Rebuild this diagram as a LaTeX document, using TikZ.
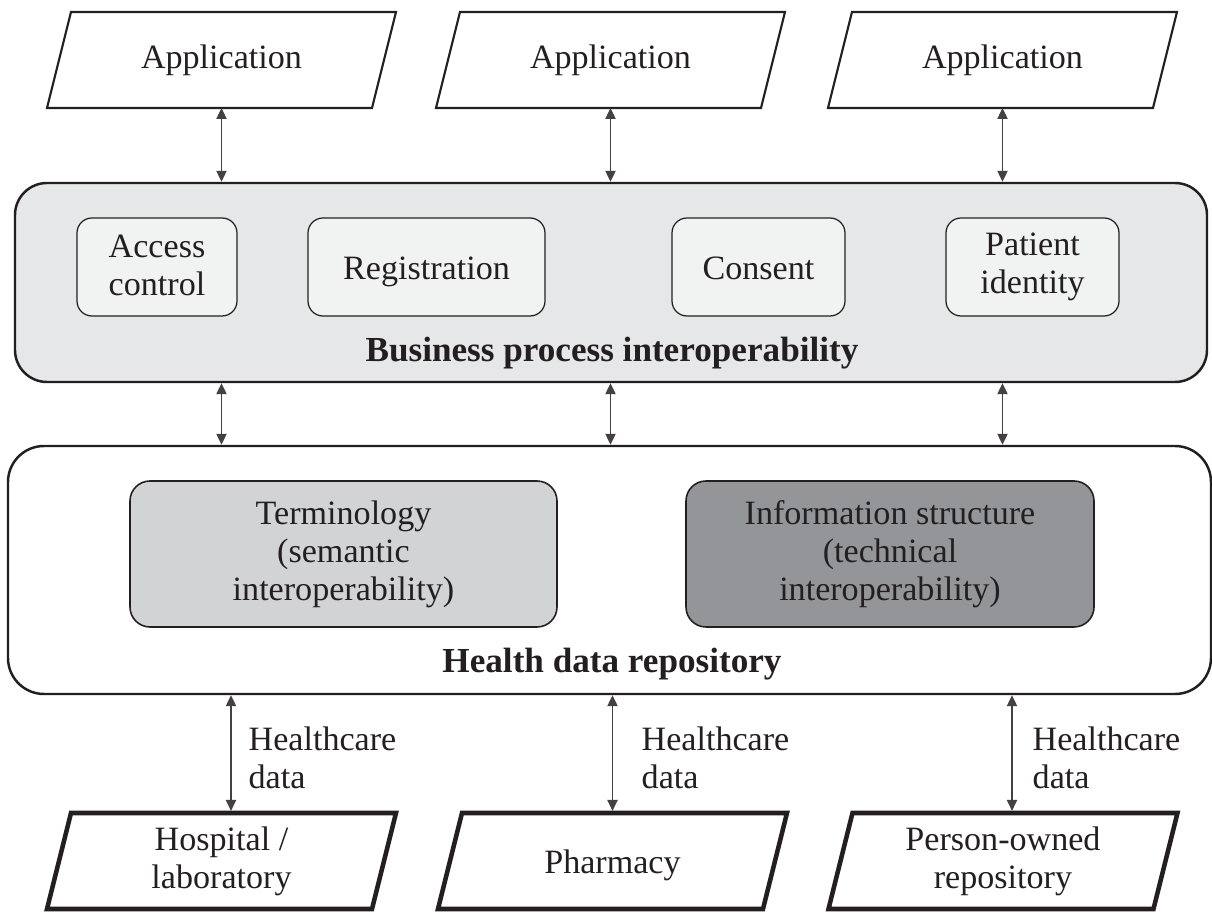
\documentclass[tikz,border=0pt]{standalone}
\usepackage{fontspec}
\setmainfont{Liberation Serif}
\usetikzlibrary{arrows.meta}

\definecolor{ink}{HTML}{231F20}
\definecolor{bizfill}{HTML}{E6E7E8}
\definecolor{subfill}{HTML}{F1F2F2}
\definecolor{termfill}{HTML}{D1D3D4}
\definecolor{infofill}{HTML}{939598}

% struts that keep line boxes even in every node
\newcommand\boxstrut{\rule[-1.84pt]{0pt}{10.8pt}}
\newcommand\tallstrut{\rule[-0.84pt]{0pt}{12.3pt}}
\newcommand\nodestrut{\boxstrut}

\begin{document}
\begin{tikzpicture}[
    font=\fontsize{9.7}{10.8}\selectfont, text=ink,
    every node/.style={execute at begin node=\nodestrut, execute at end node=\nodestrut},
    multi/.style={/utils/exec={\let\nodestrut\tallstrut}},
    para/.style={minimum width=3.25cm, minimum height=0.96cm,
      inner sep=0pt, outer sep=0pt, align=center},
    appbox/.style={para, text height=7.86pt, text depth=2.94pt},
    layer/.style={draw=ink, line width=0.7pt, rounded corners=0.32cm},
    subbox/.style={draw=ink, line width=0.35pt, fill=subfill, rounded corners=0.15cm,
      minimum height=0.98cm, align=center},
    bigbox/.style={multi, draw=ink, line width=0.45pt, rounded corners=0.2cm,
      minimum height=1.46cm, align=center},
    link/.style={draw=ink!85, line width=0.38pt,
      {Triangle[length=3.1pt,width=2.9pt]}-{Triangle[length=3.1pt,width=2.9pt]}},
    datalbl/.style={multi, anchor=west, align=left, inner sep=0pt}
  ]
  \useasboundingbox (0,0) rectangle (12.12,9.12);

  % Applications on top
  \node[appbox] (app1) at (2.215,8.52) {Application};
  \node[appbox] (app2) at (6.105,8.52) {Application};
  \node[appbox] (app3) at (10.025,8.52) {Application};

  % Business process layer
  \node[layer, fill=bizfill, minimum width=11.92cm, minimum height=1.99cm] (biz) at (6.11,6.295) {};
  \node[subbox, multi, minimum width=1.60cm] (acc) at (1.57,6.45) {Access\\control};
  \node[subbox, minimum width=2.37cm] (reg) at (4.265,6.45) {Registration};
  \node[subbox, minimum width=1.73cm] (cons) at (7.585,6.45) {Consent};
  \node[subbox, multi, minimum width=1.73cm] (pat) at (10.325,6.45) {Patient\\identity};
  \node[font=\fontsize{10}{12}\selectfont\bfseries] (bizlbl) at (6.12,5.625) {Business process interoperability};

  % Repository layer
  \node[layer, fill=white, rounded corners=0.36cm, minimum width=12.03cm, minimum height=2.48cm] (repo) at (6.095,3.42) {};
  \node[bigbox, fill=termfill, minimum width=4.27cm] (term) at (3.435,3.58) {Terminology\\(semantic\\interoperability)};
  \node[bigbox, fill=infofill, minimum width=4.08cm] (info) at (8.90,3.58) {Information structure\\(technical\\interoperability)};
  \node[font=\fontsize{10}{12}\selectfont\bfseries] (repolbl) at (6.12,2.515) {Health data repository};

  % Data sources at the bottom
  \node[para, multi] (hosp) at (2.215,0.51) {Hospital /\\laboratory};
  \node[para] (pharm) at (6.125,0.51) {Pharmacy};
  \node[para, multi] (pers) at (10.03,0.51) {Person-owned\\repository};

  % Slanted outlines
  \foreach \n/\w in {app1/0.6pt,app2/0.6pt,app3/0.6pt,hosp/1.3pt,pharm/1.3pt,pers/1.3pt}
    \draw[draw=ink, line width=\w] ([xshift=-0.12cm]\n.south west) -- ([xshift=-0.12cm]\n.south east)
      -- ([xshift=0.12cm]\n.north east) -- ([xshift=0.12cm]\n.north west) -- cycle;

  % Arrows
  \foreach \a in {app1,app2,app3} {
    \draw[link] (\a.south) -- (\a.south |- biz.north);
    \draw[link] (\a.south |- biz.south) -- (\a.south |- repo.north);
  }
  \draw[link, shorten >=0.6pt] ([xshift=0.095cm]hosp.north |- repo.south) -- ([xshift=0.095cm]hosp.north);
  \draw[link, shorten >=0.6pt] (pharm.north |- repo.south) -- (pharm.north);
  \draw[link, shorten >=0.6pt] ([xshift=0.09cm]pers.north |- repo.south) -- ([xshift=0.09cm]pers.north);

  \node[datalbl] (d1) at (2.48,1.53) {Healthcare\\data};
  \node[datalbl] (d2) at (6.41,1.53) {Healthcare\\data};
  \node[datalbl] (d3) at (10.32,1.53) {Healthcare\\data};
\end{tikzpicture}
\end{document}
